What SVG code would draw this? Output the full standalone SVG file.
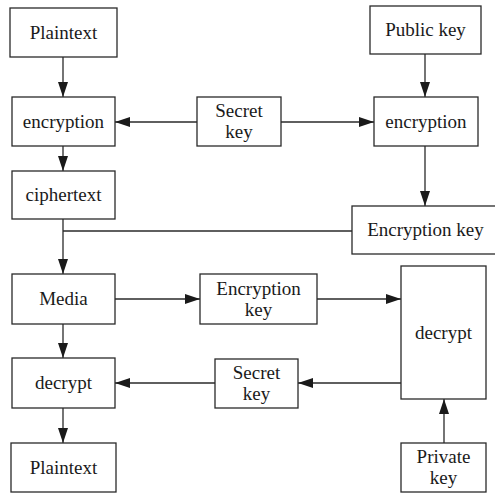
<svg xmlns="http://www.w3.org/2000/svg" width="495" height="493" viewBox="0 0 495 493">
  <style>
    .box { fill: #ffffff; stroke: #2a2a2a; stroke-width: 1.3; }
    .lbl { font-family: "Liberation Serif", "Times New Roman", serif; font-size: 19px; fill: #1a1a1a; text-anchor: middle; }
    .wire { fill: none; stroke: #2a2a2a; stroke-width: 1.3; }
    .arrow { marker-end: url(#head); }
  </style>
  <defs>
    <marker id="head" markerUnits="userSpaceOnUse" markerWidth="15" markerHeight="10" refX="15" refY="5" orient="auto">
      <path d="M0,0 L15,5 L0,10 z" fill="#1a1a1a"/>
    </marker>
  </defs>
  <rect width="495" height="493" fill="#ffffff"/>

  <!-- connectors -->
  <g id="connectors">
    <line class="wire arrow" x1="63" y1="57" x2="63" y2="97"/>
    <line class="wire arrow" x1="197" y1="122" x2="115" y2="122"/>
    <line class="wire arrow" x1="281" y1="122" x2="374" y2="122"/>
    <line class="wire arrow" x1="63" y1="146" x2="63" y2="171"/>
    <line class="wire arrow" x1="425" y1="54" x2="425" y2="97"/>
    <line class="wire arrow" x1="425" y1="146" x2="425" y2="206"/>
    <line class="wire" x1="63" y1="231" x2="352" y2="231"/>
    <line class="wire arrow" x1="63" y1="219" x2="63" y2="274"/>
    <line class="wire arrow" x1="115" y1="299" x2="200" y2="299"/>
    <line class="wire arrow" x1="317" y1="299" x2="401" y2="299"/>
    <line class="wire arrow" x1="63" y1="324" x2="63" y2="358"/>
    <line class="wire arrow" x1="401" y1="383" x2="298" y2="383"/>
    <line class="wire arrow" x1="215" y1="383" x2="115" y2="383"/>
    <line class="wire arrow" x1="63" y1="408" x2="63" y2="443"/>
    <line class="wire arrow" x1="444" y1="443" x2="444" y2="399"/>
  </g>

  <!-- left column -->
  <g id="plaintext-in">
    <rect class="box" x="10" y="8" width="107" height="49"/>
    <text class="lbl" x="63.5" y="38.5">Plaintext</text>
  </g>
  <g id="encryption-left">
    <rect class="box" x="12" y="97" width="103" height="49"/>
    <text class="lbl" x="63.5" y="127.5">encryption</text>
  </g>
  <g id="ciphertext">
    <rect class="box" x="12" y="171" width="103" height="48"/>
    <text class="lbl" x="63.5" y="201">ciphertext</text>
  </g>
  <g id="media">
    <rect class="box" x="12" y="274" width="103" height="50"/>
    <text class="lbl" x="63.5" y="305">Media</text>
  </g>
  <g id="decrypt-left">
    <rect class="box" x="12" y="358" width="103" height="50"/>
    <text class="lbl" x="63.5" y="389">decrypt</text>
  </g>
  <g id="plaintext-out">
    <rect class="box" x="11" y="443" width="105" height="49"/>
    <text class="lbl" x="63.5" y="473.5">Plaintext</text>
  </g>

  <!-- middle column -->
  <g id="secret-key-top">
    <rect class="box" x="197" y="97" width="84" height="49"/>
    <text class="lbl" x="239" y="117">Secret</text>
    <text class="lbl" x="239" y="138">key</text>
  </g>
  <g id="encryption-key-mid">
    <rect class="box" x="200" y="274" width="117" height="50"/>
    <text class="lbl" x="258.5" y="295">Encryption</text>
    <text class="lbl" x="258.5" y="316">key</text>
  </g>
  <g id="secret-key-bottom">
    <rect class="box" x="215" y="359" width="83" height="49"/>
    <text class="lbl" x="256.5" y="379">Secret</text>
    <text class="lbl" x="256.5" y="400">key</text>
  </g>

  <!-- right column -->
  <g id="public-key">
    <rect class="box" x="370" y="6" width="111" height="48"/>
    <text class="lbl" x="425.5" y="36">Public key</text>
  </g>
  <g id="encryption-right">
    <rect class="box" x="374" y="97" width="104" height="49"/>
    <text class="lbl" x="426" y="127.5">encryption</text>
  </g>
  <g id="encryption-key-right">
    <rect class="box" x="352" y="206" width="148" height="48"/>
    <text class="lbl" x="425.5" y="236">Encryption key</text>
  </g>
  <g id="decrypt-right">
    <rect class="box" x="401" y="266" width="85" height="133"/>
    <text class="lbl" x="443.5" y="338.5">decrypt</text>
  </g>
  <g id="private-key">
    <rect class="box" x="401" y="443" width="85" height="49"/>
    <text class="lbl" x="443.5" y="463">Private</text>
    <text class="lbl" x="443.5" y="484">key</text>
  </g>
</svg>
